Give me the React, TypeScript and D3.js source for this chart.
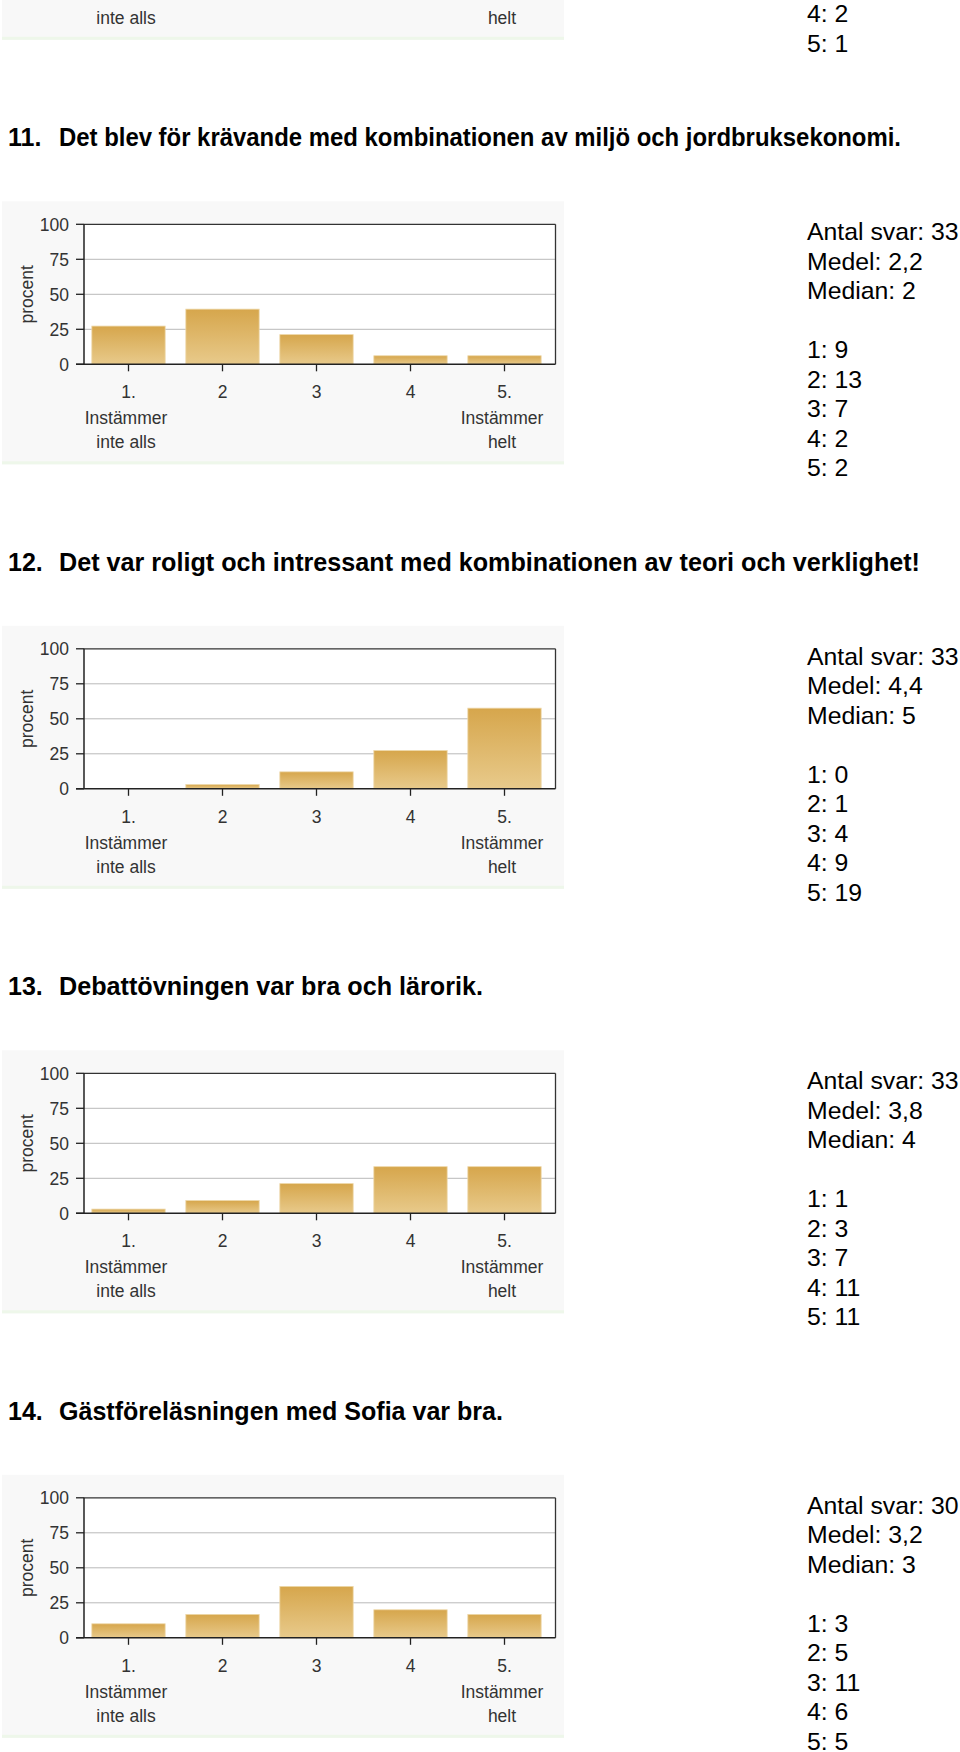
import React from "react";
import * as d3 from "d3";

// ---------- data ----------
const questionNumbers = ["10.", "11.", "12.", "13.", "14."];
const questionTexts: (string | null)[] = [
  null,
  "Det blev för krävande med kombinationen av miljö och jordbruksekonomi.",
  "Det var roligt och intressant med kombinationen av teori och verklighet!",
  "Debattövningen var bra och lärorik.",
  "Gästföreläsningen med Sofia var bra.",
];
const categories = ["1", "2", "3", "4", "5"];
const categoryLabels = [
  ["1.", "Instämmer", "inte alls"],
  ["2"],
  ["3"],
  ["4"],
  ["5.", "Instämmer", "helt"],
];
const yTicks = [0, 25, 50, 75, 100];
const yAxisTitle = "procent";

// percent per answer option (bar heights)
const percentQ10: (number | null)[] = [null, null, null, null, null];
const percentQ11 = [27.3, 39.4, 21.2, 6.1, 6.1];
const percentQ12 = [0, 3.0, 12.1, 27.3, 57.6];
const percentQ13 = [3.0, 9.1, 21.2, 33.3, 33.3];
const percentQ14 = [10.0, 16.7, 36.7, 20.0, 16.7];

// answer counts per option
const countsQ10: (number | null)[] = [null, null, null, 2, 1];
const countsQ11 = [9, 13, 7, 2, 2];
const countsQ12 = [0, 1, 4, 9, 19];
const countsQ13 = [1, 3, 7, 11, 11];
const countsQ14 = [3, 5, 11, 6, 5];

const totals: (number | null)[] = [null, 33, 33, 33, 30];
const means: (string | null)[] = [null, "2,2", "4,4", "3,8", "3,2"];
const medians: (string | null)[] = [null, "2", "5", "4", "3"];

const percents = [percentQ10, percentQ11, percentQ12, percentQ13, percentQ14];
const counts = [countsQ10, countsQ11, countsQ12, countsQ13, countsQ14];

// ---------- layout ----------
const FONT = "'Liberation Sans', Arial, Helvetica, sans-serif";
const FIRST_TOP = -200.2;
const PERIOD = 424.5;
const PLOT_H = 140;
const PLOT_L = 84;
const PLOT_R = 555.5;
const TITLE_WIDTHS = [0, 842, 861, 424, 444];

function Chart({ idx }: { idx: number }) {
  const T = FIRST_TOP + idx * PERIOD;
  const x = d3
    .scaleBand<string>()
    .domain(categories)
    .range([81.5, 551.5])
    .paddingInner(0.22)
    .paddingOuter(0.11);
  const y = d3.scaleLinear().domain([0, 100]).range([T + PLOT_H, T]);
  const gid = `barGrad${idx}`;
  const vals = percents[idx];
  const cnts = counts[idx];

  const statLines: (string | null)[] = [
    totals[idx] != null ? `Antal svar: ${totals[idx]}` : null,
    means[idx] != null ? `Medel: ${means[idx]}` : null,
    medians[idx] != null ? `Median: ${medians[idx]}` : null,
    null,
    ...categories.map((c, i) => (cnts[i] != null ? `${c}: ${cnts[i]}` : null)),
  ];

  const labelOffsets = [167.4, 193.4, 217.7];
  const text = questionTexts[idx];
  const visible = (yy: number) => yy > 8;

  return (
    <g>
      <defs>
        <linearGradient id={gid} x1="0" y1="0" x2="0" y2="1">
          <stop offset="0" stopColor="#d6a64c" />
          <stop offset="1" stopColor="#e8ca8b" />
        </linearGradient>
      </defs>
      {text && (
        <g fontFamily={FONT} fontWeight="bold" fontSize={25} fill="#000">
          <text x={8} y={T - 78.3}>{questionNumbers[idx]}</text>
          <text
            x={59}
            y={T - 78.3}
            textLength={TITLE_WIDTHS[idx]}
            lengthAdjust="spacingAndGlyphs"
          >
            {text}
          </text>
        </g>
      )}
      {/* panel */}
      <rect x={2} y={T - 23} width={562} height={263} fill="#f8f8f8" />
      <rect x={2} y={T + 237} width={562} height={3} fill="#eef7ea" />
      {/* plot */}
      <rect x={PLOT_L} y={T} width={PLOT_R - PLOT_L} height={PLOT_H} fill="#ffffff" />
      {yTicks
        .filter((t) => t !== 0 && t !== 100)
        .map((t) => (
          <line key={t} x1={PLOT_L} x2={PLOT_R} y1={y(t)} y2={y(t)} stroke="#b9b9b9" strokeWidth={1} />
        ))}
      {vals.map((v, i) =>
        v == null || v <= 0 ? null : (
          <rect
            key={i}
            x={x(categories[i])}
            y={y(v)}
            width={x.bandwidth()}
            height={y(0) - y(v)}
            fill={`url(#${gid})`}
            stroke="#edd7a8"
            strokeWidth={0.8}
          />
        )
      )}
      {/* borders */}
      <line x1={PLOT_L} x2={PLOT_R} y1={T} y2={T} stroke="#333" strokeWidth={1.3} />
      <line x1={PLOT_R} x2={PLOT_R} y1={T} y2={T + PLOT_H} stroke="#333" strokeWidth={1.3} />
      <line x1={PLOT_L} x2={PLOT_L} y1={T} y2={T + PLOT_H} stroke="#222" strokeWidth={1.5} />
      <line x1={PLOT_L - 8} x2={PLOT_R} y1={T + PLOT_H} y2={T + PLOT_H} stroke="#222" strokeWidth={1.5} />
      {/* y ticks */}
      <g fontFamily={FONT} fontSize={17.5} fill="#333">
        {yTicks.map((t) => (
          <g key={t}>
            <line x1={PLOT_L - 8} x2={PLOT_L} y1={y(t)} y2={y(t)} stroke="#222" strokeWidth={1.3} />
            {visible(y(t)) && (
              <text x={69} y={y(t) + 6.3} textAnchor="end">{t}</text>
            )}
          </g>
        ))}
        {visible(T + 70) && (
          <text
            transform={`translate(27, ${T + 70}) rotate(-90)`}
            textAnchor="middle"
            dy="0.35em"
          >
            {yAxisTitle}
          </text>
        )}
        {categories.map((c, i) => {
          const cx = (x(c) as number) + x.bandwidth() / 2;
          return (
            <g key={c}>
              <line x1={cx} x2={cx} y1={T + PLOT_H} y2={T + PLOT_H + 7} stroke="#222" strokeWidth={1.3} />
              {categoryLabels[i].map((l, k) =>
                visible(T + labelOffsets[k]) ? (
                  <text key={k} x={cx - (k > 0 ? 2.5 : 0)} y={T + labelOffsets[k] + 6.3} textAnchor="middle">
                    {l}
                  </text>
                ) : null
              )}
            </g>
          );
        })}
      </g>
      {/* stats */}
      <g fontFamily={FONT} fontSize={24.8} fill="#000">
        {statLines.map((s, k) =>
          s ? (
            <text key={k} x={807} y={T + 15.7 + k * 29.5}>
              {s}
            </text>
          ) : null
        )}
      </g>
    </g>
  );
}

export default function App() {
  return (
    <svg
      width={960}
      height={1752}
      style={{ position: "absolute", left: 0, top: 0, background: "#fff" }}
    >
      <rect x={0} y={0} width={960} height={1752} fill="#fff" />
      {questionNumbers.map((_, i) => (
        <Chart key={i} idx={i} />
      ))}
    </svg>
  );
}
